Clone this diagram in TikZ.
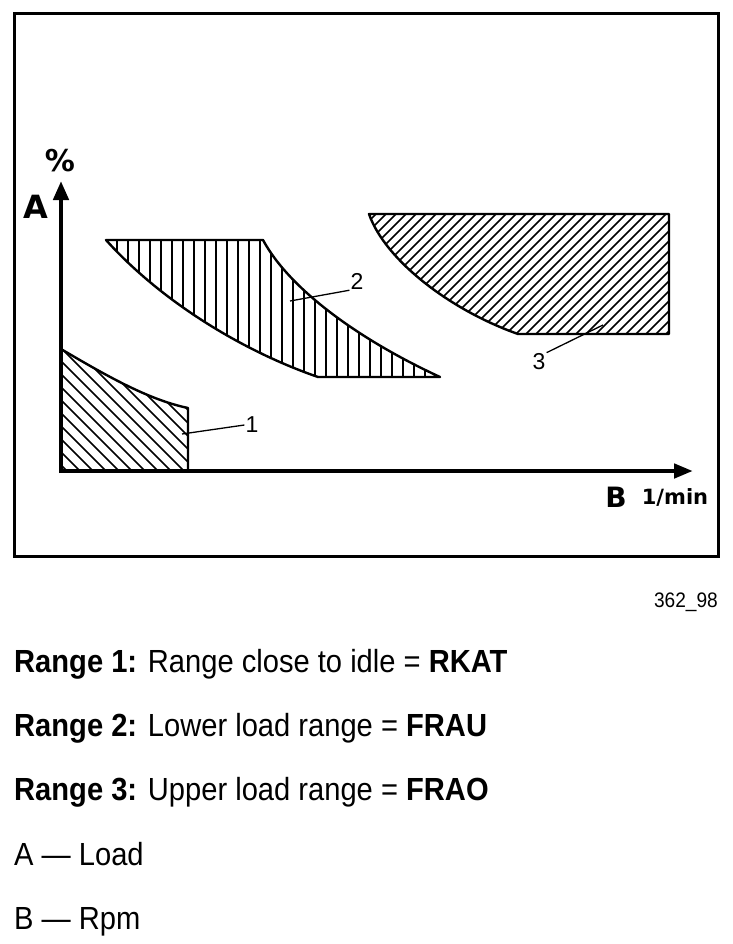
\documentclass[tikz,border=0pt]{standalone}
\usepackage{fontspec}
\setmainfont{Liberation Sans}
\newfontfamily\capfont[FakeStretch=0.91]{Liberation Sans}
\newfontfamily\heavyfont{DejaVu Sans}
\usetikzlibrary{arrows.meta}
\begin{document}
\begin{tikzpicture}[x=1pt,y=-1pt,
  outline/.style={line width=2.4pt,line join=round},
  hatch/.style={line width=1.5pt},
  axis/.style={line width=4.5pt},
  leader/.style={line width=1.3pt},
  numlbl/.style={font=\fontsize{23}{23}\selectfont,inner sep=1pt},
  axlbl/.style={font=\heavyfont\bfseries\fontsize{30}{30}\selectfont,inner sep=0pt},
  caption/.style={font=\capfont\fontsize{32}{32}\selectfont,anchor=base west,inner sep=0pt}]
\useasboundingbox (0,0) rectangle (732,944);
\fill[white] (0,0) rectangle (732,944);
% frame
\draw[line width=3pt] (14,14) rectangle (718,556);

% Region 1
\begin{scope}
  \clip (61,349) .. controls (110,378) and (150,400) .. (188,408) -- (188,471) -- (61,471) -- cycle;
  \foreach \i in {-200,-187,...,200} \draw[hatch] (61+\i,330) -- (61+\i+160,490);
\end{scope}
\draw[outline] (61,349) .. controls (110,378) and (150,400) .. (188,408) -- (188,471);

% Region 2
\begin{scope}
  \clip (106,240) -- (263,240) .. controls (290,290) and (360,340) .. (440,377) -- (318,377) .. controls (240,350) and (160,300) .. (106,240) -- cycle;
  \foreach \i in {117,128,...,440} \draw[hatch] (\i,235) -- (\i,380);
\end{scope}
\draw[outline] (106,240) -- (263,240) .. controls (290,290) and (360,340) .. (440,377) -- (318,377) .. controls (240,350) and (160,300) .. (106,240) -- cycle;

% Region 3
\begin{scope}
  \clip (369,214) -- (669,214) -- (669,334) -- (518,334) .. controls (450,310) and (385,260) .. (369,214) -- cycle;
  \foreach \i in {360,370,...,820} \draw[hatch] (\i,210) -- (\i-130,340);
\end{scope}
\draw[outline] (369,214) -- (669,214) -- (669,334) -- (518,334) .. controls (450,310) and (385,260) .. (369,214) -- cycle;

% axes
\coordinate (O) at (61,471);
\coordinate (ytip) at (61,181);
\coordinate (xtip) at (693,471);
\draw[axis,-{Triangle[length=19pt,width=15pt]}] (61,473) -- (ytip);
\draw[axis,-{Triangle[length=19pt,width=14pt]}] (59,471) -- (xtip);
\node[axlbl] (pct) at (60,161) {\%};
\node[axlbl,font=\heavyfont\bfseries\fontsize{32}{32}\selectfont] (A) at (36,207) {A};
\node[axlbl,font=\heavyfont\bfseries\fontsize{28}{28}\selectfont] (B) at (616,497) {B};
\node[axlbl,font=\heavyfont\bfseries\fontsize{21}{21}\selectfont] (unit) at (675,497) {1/min};

% labels
\node[numlbl] (l1) at (252,425) {1};
\node[numlbl] (l2) at (357,281) {2};
\node[numlbl] (l3) at (539,362) {3};
\coordinate (p1) at (182,434);
\coordinate (p2) at (290,301);
\coordinate (p3) at (603,325);
\draw[leader] (p1) -- (l1.west);
\draw[leader] (p2) -- (l2.south west);
\draw[leader] (p3) -- (l3.north east);

% code
\node[font=\capfont\fontsize{21}{21}\selectfont,anchor=base east,inner sep=0pt] (code) at (718,607) {362\_98};

% captions
\node[caption] (c1) at (14,672) {\textbf{Range 1:} Range close to idle = \textbf{RKAT}};
\node[caption] (c2) at (14,736) {\textbf{Range 2:} Lower load range = \textbf{FRAU}};
\node[caption] (c3) at (14,800) {\textbf{Range 3:} Upper load range = \textbf{FRAO}};
\node[caption] (c4) at (14,865) {A — Load};
\node[caption] (c5) at (14,929) {B — Rpm};
\end{tikzpicture}
\end{document}
